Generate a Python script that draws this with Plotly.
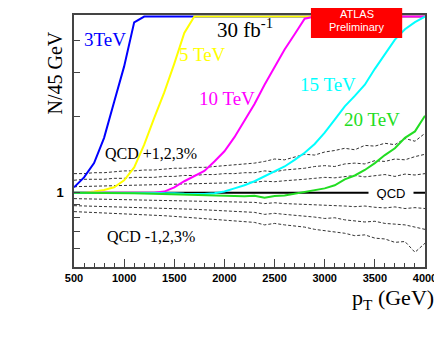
import plotly.graph_objects as go

# pT grid (GeV)
pt = list(range(500, 4001, 100))

# QCD reference and the +-1,2,3% variations (ratio)
qcd = [1.0] * len(pt)
qcd_p3 = [1.19, 1.19, 1.20, 1.20, 1.21, 1.22, 1.22, 1.23, 1.23, 1.24, 1.25, 1.25,
          1.26, 1.26, 1.27, 1.28, 1.29, 1.30, 1.31, 1.33, 1.36, 1.35, 1.38, 1.42,
          1.41, 1.45, 1.47, 1.50, 1.48, 1.54, 1.53, 1.57, 1.55, 1.64, 1.60, 1.72]
qcd_p2 = [1.12, 1.13, 1.13, 1.13, 1.14, 1.14, 1.15, 1.15, 1.15, 1.16, 1.16, 1.17,
          1.17, 1.18, 1.18, 1.19, 1.19, 1.20, 1.20, 1.22, 1.21, 1.23, 1.24, 1.25,
          1.27, 1.28, 1.27, 1.30, 1.31, 1.30, 1.34, 1.33, 1.36, 1.35, 1.39, 1.42]
qcd_p1 = [1.056, 1.058, 1.060, 1.062, 1.064, 1.066, 1.068, 1.070, 1.072, 1.075, 1.077, 1.080,
          1.082, 1.085, 1.088, 1.090, 1.093, 1.095, 1.100, 1.110, 1.105, 1.115, 1.120, 1.130,
          1.140, 1.150, 1.145, 1.160, 1.170, 1.155, 1.170, 1.180, 1.160, 1.185, 1.175, 1.190]
qcd_m1 = [0.947, 0.945, 0.944, 0.942, 0.941, 0.940, 0.938, 0.937, 0.935, 0.934, 0.932, 0.930,
          0.929, 0.927, 0.925, 0.922, 0.920, 0.918, 0.915, 0.905, 0.912, 0.905, 0.902, 0.900,
          0.895, 0.890, 0.893, 0.885, 0.880, 0.885, 0.875, 0.870, 0.878, 0.865, 0.872, 0.865]
qcd_m2 = [0.888, 0.886, 0.884, 0.882, 0.880, 0.878, 0.876, 0.874, 0.871, 0.868, 0.865, 0.862,
          0.859, 0.855, 0.852, 0.849, 0.845, 0.840, 0.835, 0.820, 0.828, 0.820, 0.815, 0.810,
          0.800, 0.790, 0.795, 0.780, 0.775, 0.765, 0.770, 0.755, 0.750, 0.745, 0.730, 0.715]
qcd_m3 = [0.841, 0.838, 0.835, 0.832, 0.829, 0.826, 0.822, 0.818, 0.814, 0.810, 0.805, 0.800,
          0.796, 0.790, 0.785, 0.780, 0.775, 0.770, 0.762, 0.745, 0.755, 0.745, 0.735, 0.730,
          0.715, 0.708, 0.700, 0.690, 0.675, 0.680, 0.660, 0.655, 0.635, 0.640, 0.580, 0.630]

# signal + QCD ratios, values above the frame are drawn on the top edge (5)
sig_3tev = [1.05, 1.15, 1.31, 1.65, 2.29, 3.17, 4.74] + [5.0] * 29
sig_5tev = [1.0, 1.0, 1.01, 1.025, 1.05, 1.12, 1.26, 1.55, 1.98, 2.5, 3.25, 4.3] + [5.0] * 24
sig_10tev = [1.0] * 8 + [1.0, 1.01, 1.05, 1.11, 1.16, 1.22, 1.33, 1.46, 1.66, 1.94, 2.25,
                         2.68, 3.15, 3.7, 4.25, 4.9] + [5.0] * 12
sig_15tev = [1.0] * 10 + [0.995, 0.99, 0.99, 0.988, 0.995, 1.01, 1.04, 1.07, 1.11, 1.16,
                          1.21, 1.27, 1.35, 1.44, 1.56, 1.73, 1.95, 2.2, 2.42, 2.68, 3.1,
                          3.55, 4.05, 4.45, 4.75, 5.0]
sig_20tev = [1.0, 1.0, 1.0, 0.998, 0.997, 0.995, 0.995, 0.993, 0.99, 0.99, 0.985, 0.985,
             0.98, 0.975, 0.97, 0.972, 0.97, 0.968, 0.972, 0.955, 0.97, 0.975, 0.99, 1.005,
             1.02, 1.04, 1.07, 1.13, 1.17, 1.23, 1.31, 1.41, 1.50, 1.65, 1.75, 2.02]

signals = [("3TeV", sig_3tev, "#0000ff"), ("5 TeV", sig_5tev, "#ffff00"),
           ("10 TeV", sig_10tev, "#ff00ff"), ("15 TeV", sig_15tev, "#00ffff"),
           ("20 TeV", sig_20tev, "#22dd22")]
# label positions in paper coords
label_pos = {"3TeV": (0.088, 0.902), "5 TeV": (0.367, 0.843), "10 TeV": (0.435, 0.669),
             "15 TeV": (0.723, 0.724), "20 TeV": (0.850, 0.587)}

serif = "Liberation Serif"
sans = "Liberation Sans"


def add_text(x, y, text, font, **kw):
    kw.setdefault("xanchor", "center")
    kw.setdefault("yanchor", "middle")
    fig.add_annotation(x=x, y=y, xref=kw.pop("xref", "paper"), yref=kw.pop("yref", "paper"),
                       text=text, showarrow=False, font=font, **kw)


fig = go.Figure()
for vals in [qcd_p3, qcd_p2, qcd_p1, qcd_m1, qcd_m2, qcd_m3]:
    fig.add_trace(go.Scatter(x=pt, y=vals, mode="lines",
                             line=dict(color="#333333", width=1, dash="3px,2px")))
fig.add_trace(go.Scatter(x=pt, y=qcd, mode="lines", line=dict(color="black", width=2)))
for name, vals, color in signals:
    fig.add_trace(go.Scatter(x=pt, y=vals, mode="lines", name=name,
                             line=dict(color=color, width=2)))
    lx, ly = label_pos[name]
    add_text(lx, ly, name, dict(family=serif, size=19, color=color))

add_text(0.486, 0.945, "30 fb<sup>-1</sup>", dict(family=serif, size=21, color="black"))
add_text(0.220, 0.449, "QCD +1,2,3%", dict(family=serif, size=16, color="black"))
add_text(0.218, 0.122, "QCD -1,2,3%", dict(family=serif, size=16, color="black"))
add_text(0.904, 0, "QCD", dict(family=sans, size=13, color="black"), yref="y",
         bgcolor="white", width=42, height=14)

# ATLAS Preliminary box
fig.add_shape(type="rect", xref="paper", yref="paper", x0=0.675, x1=0.935, y0=0.909, y1=1.051,
              fillcolor="#ff0000", line=dict(width=0), layer="above")
add_text(0.805, 1.004, "ATLAS", dict(family=sans, size=11, color="white"))
add_text(0.805, 0.951, "Preliminary", dict(family=sans, size=11, color="white"))

# axis titles
add_text(-0.054, 0.768, "N/45 GeV", dict(family=serif, size=20, color="black"), textangle=-90)
add_text(1.031, -0.125, "p<sub>T</sub> (GeV)", dict(family=serif, size=22, color="black"),
         xanchor="right")

# page body has an 8px margin, so the figure is shrunk by 8px and shifted accordingly
fig.update_layout(
    width=434, height=340,
    margin=dict(l=66, r=14, t=5, b=81),
    paper_bgcolor="white", plot_bgcolor="white",
    showlegend=False, hovermode=False,
)
fig.update_xaxes(
    range=[500, 4000], tickvals=list(range(500, 4001, 500)),
    ticks="inside", ticklen=8, tickcolor="#444", tickwidth=1,
    minor=dict(dtick=100, ticks="inside", ticklen=4, tickcolor="#444"),
    showgrid=False, zeroline=False, showline=True, mirror=True,
    linecolor="#444", linewidth=1.5,
    tickfont=dict(family=sans, size=11, color="black", weight="bold"),
)
fig.update_yaxes(
    type="log", range=[-0.295, 0.705],
    tickvals=[0.6, 0.7, 0.8, 0.9, 1, 2, 3, 4], ticktext=["", "", "", "", "1", "", "", ""],
    ticks="inside", ticklen=6, tickcolor="#444", tickwidth=1, ticklabelstandoff=6,
    showgrid=False, zeroline=False, showline=True, mirror=True,
    linecolor="#444", linewidth=1.5,
    tickfont=dict(family=sans, size=13, color="black", weight="bold"),
)

fig.write_html("out.html")
